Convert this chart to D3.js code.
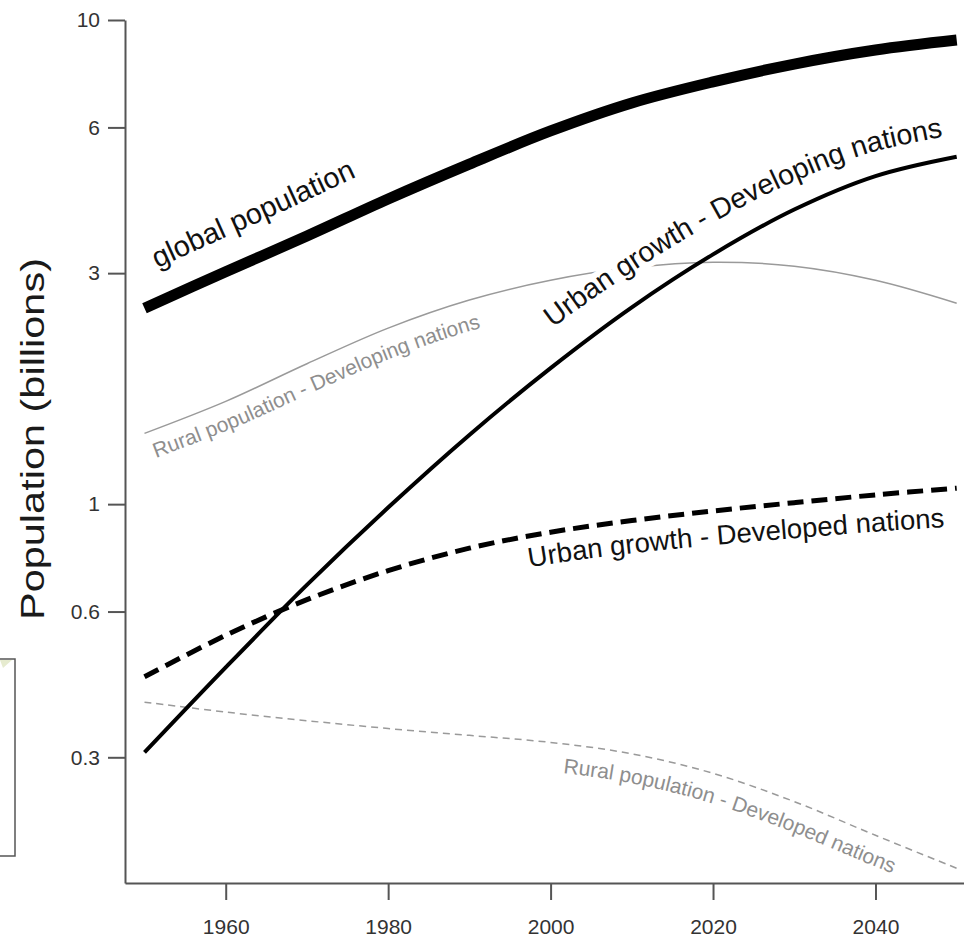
<!DOCTYPE html>
<html>
<head>
<meta charset="utf-8">
<script src="https://cdn.jsdelivr.net/npm/d3@7"></script>
<style>
  body { margin: 0; background: #fff; }
  svg { display: block; font-family: "Liberation Sans", Arial, Helvetica, sans-serif; }
</style>
</head>
<body>
<div id="chart"></div>
<script>
// ---- data (billions) ----
const years = [1950, 1960, 1970, 1980, 1990, 2000, 2010, 2020, 2030, 2040, 2050];
const globalPop        = [2.54, 3.02, 3.58, 4.27, 5.04, 5.9, 6.74, 7.45, 8.11, 8.67, 9.09];
const urbanDeveloping  = [0.307, 0.46, 0.681, 0.984, 1.39, 1.91, 2.55, 3.28, 4.06, 4.76, 5.22];
const urbanDeveloped   = [0.44, 0.536, 0.635, 0.729, 0.811, 0.875, 0.925, 0.968, 1.007, 1.045, 1.079];
const ruralDeveloping  = [1.40, 1.63, 1.95, 2.31, 2.64, 2.90, 3.08, 3.16, 3.10, 2.90, 2.60];
const ruralDeveloped   = [0.39, 0.372, 0.357, 0.344, 0.333, 0.322, 0.305, 0.278, 0.243, 0.207, 0.177];

const xTicks = [1960, 1980, 2000, 2020, 2040];
const yTicks = [0.3, 0.6, 1, 3, 6, 10];

const W = 964, H = 941;

const svg = d3.select("#chart").append("svg")
  .attr("width", W).attr("height", H);

svg.append("rect").attr("width", W).attr("height", H).attr("fill", "#fff");

const x = d3.scaleLinear().domain([1947.6, 2050.9]).range([125, 964]);
const y = d3.scaleLog().domain([0.165, 10]).range([883, 20]);

// ---- axes ----
const axisColor = "#555";

const gx = svg.append("g")
  .attr("transform", "translate(0,883)")
  .call(d3.axisBottom(x).tickValues(xTicks).tickSize(17).tickSizeOuter(0)
    .tickPadding(19).tickFormat(d3.format("d")));

const gy = svg.append("g")
  .attr("transform", "translate(125,0)")
  .call(d3.axisLeft(y).tickValues(yTicks).tickSize(17).tickSizeOuter(0)
    .tickPadding(8).tickFormat(d => String(d)));

[gx, gy].forEach(g => {
  g.select(".domain").attr("stroke", axisColor).attr("stroke-width", 2);
  g.selectAll(".tick line").attr("stroke", axisColor).attr("stroke-width", 2);
  g.selectAll(".tick text").attr("fill", "#333").attr("font-size", 21)
    .attr("font-family", "'Liberation Sans', Arial, sans-serif");
});

svg.append("text")
  .attr("transform", "translate(44,620) rotate(-90)")
  .attr("text-anchor", "start")
  .attr("font-size", 33)
  .attr("fill", "#1a1a1a")
  .attr("textLength", 362)
  .attr("lengthAdjust", "spacingAndGlyphs")
  .text("Population (billions)");

// stray frame at the left edge of the scan
svg.append("rect").attr("x", -2).attr("y", 659).attr("width", 17).attr("height", 197)
  .attr("fill", "none").attr("stroke", "#555").attr("stroke-width", 1.5);
svg.append("path").attr("d", "M0,660L12,660L3,668Z").attr("fill", "#e6ebcf");

// ---- lines ----
const line = d3.line()
  .x((d, i) => x(years[i]))
  .y(d => y(d))
  .curve(d3.curveCatmullRom.alpha(0.5));

const addLine = (vals, stroke, width, dash) => svg.append("path")
  .attr("d", line(vals))
  .attr("fill", "none")
  .attr("stroke", stroke)
  .attr("stroke-width", width)
  .attr("stroke-dasharray", dash || null);

const defs = svg.append("defs");

// offset copy of a drawn curve, used as a baseline for its label
function offsetPts(node, startYear, endYear, d0, d1) {
  const total = node.getTotalLength();
  const x0 = x(startYear), x1 = x(endYear);
  const pts = [];
  for (let l = 0; l <= total; l += 2) {
    const a = node.getPointAtLength(Math.max(0, l - 3));
    const b = node.getPointAtLength(Math.min(total, l + 3));
    const p = node.getPointAtLength(l);
    let tx = b.x - a.x, ty = b.y - a.y;
    const n = Math.hypot(tx, ty) || 1;
    tx /= n; ty /= n;
    const t = Math.max(0, Math.min(1, (p.x - x0) / (x1 - x0)));
    const dist = d0 + (d1 - d0) * t;
    pts.push([p.x + ty * dist, p.y - tx * dist]);
  }
  return pts.filter(q => q[0] >= x0);
}

let labelId = 0;
function addLabel(node, txt, opt) {
  const pts = offsetPts(node, opt.start, opt.end, opt.d0, opt.d1);
  const id = "lab" + (labelId++);
  defs.append("path").attr("id", id)
    .attr("d", d3.line().curve(d3.curveBasis)(pts));
  if (opt.halo) {
    // white knockout drawn first so glyphs are never covered
    svg.append("text")
      .attr("font-size", opt.size)
      .attr("fill", "#fff").attr("stroke", "#fff")
      .attr("stroke-width", opt.halo).attr("stroke-linejoin", "round")
      .append("textPath").attr("href", "#" + id).text(txt);
  }
  svg.append("text")
    .attr("font-size", opt.size)
    .attr("fill", opt.color)
    .append("textPath").attr("href", "#" + id).text(txt);
}

const gray = "#9a9a9a";
const grayText = "#8e8e8e";

const pRuralDeveloped = addLine(ruralDeveloped, gray, 1.5, "7,5");
const pRuralDeveloping = addLine(ruralDeveloping, gray, 1.5);

addLabel(pRuralDeveloping.node(), "Rural population - Developing nations",
  { start: 1951.3, end: 1990.8, d0: -27, d1: -30, size: 21, color: grayText });
addLabel(pRuralDeveloped.node(), "Rural population - Developed nations",
  { start: 2001.5, end: 2050, d0: -29, d1: -29, size: 21, color: grayText });

const guide = addLine(urbanDeveloping, "none", 0);
addLabel(guide.node(), "Urban growth - Developing nations",
  { start: 2000.2, end: 2050, d0: 31, d1: 22, size: 28.5, color: "#111", halo: 12 });

const pUrbanDeveloped = addLine(urbanDeveloped, "#000", 5, "16,8");
addLabel(pUrbanDeveloped.node(), "Urban growth - Developed nations",
  { start: 1997.2, end: 2050, d0: -31, d1: -38, size: 27.5, color: "#111" });

addLine(urbanDeveloping, "#000", 4);

const pGlobal = addLine(globalPop, "#000", 11);
addLabel(pGlobal.node(), "global population",
  { start: 1951.4, end: 1977, d0: 31, d1: 33, size: 29, color: "#111" });
</script>
</body>
</html>
